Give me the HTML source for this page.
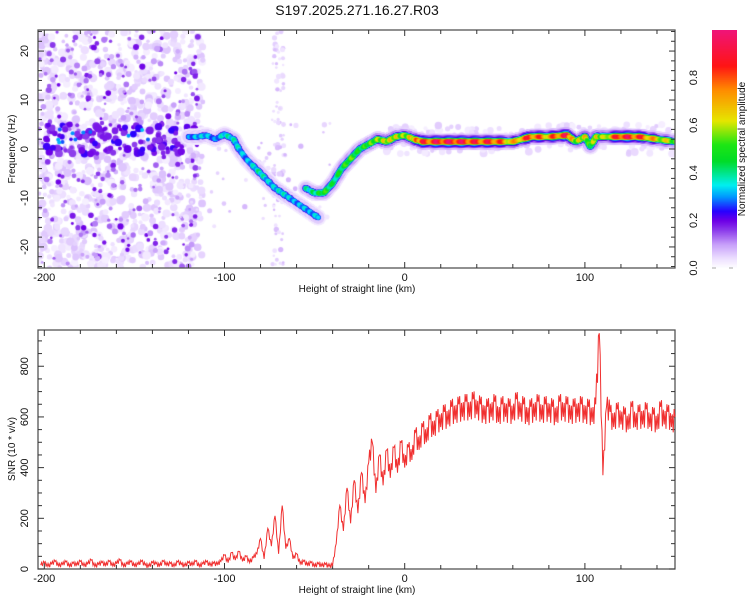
<!DOCTYPE html>
<html><head><meta charset="utf-8"><style>
body{margin:0;background:#fff;width:750px;height:600px;overflow:hidden;font-family:"Liberation Sans",sans-serif}
#wrap{position:relative;width:750px;height:600px}
canvas{position:absolute}
svg{position:absolute;left:0;top:0}
</style></head><body><div id="wrap">
<canvas id="spec" width="637" height="238" style="left:38px;top:30px"></canvas>
<canvas id="cbar" width="25" height="238" style="left:712px;top:30px"></canvas>
<svg id="svg" width="750" height="600"></svg>
</div>
<script>
// ---- data ----
const ridge1X=[-120,-115,-110,-105,-100,-95,-92,-88,-84,-80,-76,-72,-68,-64,-60,-56,-52,-48];
const ridge1F=[2.5,2.5,2.8,2,3,2,0,-2,-3.5,-5,-6.5,-8,-9,-10,-11,-12,-13,-14];
const ridge1A=[.28,.32,.33,.28,.36,.36,.34,.3,.34,.38,.33,.33,.36,.33,.3,.33,.3,.34];
const ridge2X=[-55,-50,-45,-40,-35,-30,-25,-20,-15,-10,-5,0,5,10,20,30,40,50,60,70,80,90,95,100,103,106,110,120,130,140,150];
const ridge2F=[-8,-9,-9,-7,-4,-2,0,1,2,1.5,2.5,2.8,2,1.5,1.5,1.5,1.5,1.5,1.5,2.5,2.5,2.8,1.5,2.5,0.5,2.5,2.5,2.5,2.5,2,1.5];
const ridge2A=[.36,.4,.5,.42,.45,.52,.45,.5,.55,.62,.62,.55,.68,.8,.88,.88,.82,.82,.65,.82,.7,.88,.55,.65,.45,.65,.55,.88,.82,.65,.55];
const snrStart=-202, snrStep=2;
const snrValues=[15,25,10,20,30,12,18,28,10,22,15,30,12,20,35,10,18,25,14,30,12,22,35,10,20,28,12,18,30,15,10,25,20,12,30,15,22,10,28,18,12,25,15,30,10,20,28,14,22,18,
30,55,25,65,35,70,30,50,25,45,
60,120,40,160,90,210,60,250,80,120,
40,60,20,30,15,25,10,20,12,18,10,15,
100,250,150,320,180,350,220,380,260,420,
500,300,450,330,470,360,480,380,500,400,
480,430,540,470,560,500,590,530,600,560,
620,570,640,590,650,600,660,600,670,610,
650,590,640,600,660,580,650,600,640,590,670,600,650,580,640,600,660,590,650,600,640,580,660,600,650,590,640,600,650,590,
640,580,650,
930,370,640,
620,560,630,570,610,550,640,560,620,570,630,560,610,550,640,570,620,560,600];
const xTicks=[-200,-100,0,100];
const fTicks=[-20,-10,0,10,20];
const snrTicks=[0,200,400,600,800];
const cbTicks=[0,0.2,0.4,0.6,0.8];

// ---- scales ----
const X0=38,X1=675,XMIN=-203.5,XMAX=150;
const sx=v=>X0+(v-XMIN)/(XMAX-XMIN)*(X1-X0);
const FT=30,FB=268,FMIN=-24.3,FMAX=24.3;
const sf=v=>FB-(v-FMIN)/(FMAX-FMIN)*(FB-FT);
const ST=330,SB=569,SMIN=0,SMAX=943;
const ss=v=>SB-(v-SMIN)/(SMAX-SMIN)*(SB-ST);

const stops=[[0,[255,255,255]],[0.04,[238,225,255]],[0.1,[200,160,250]],[0.16,[140,60,235]],[0.2,[110,0,230]],[0.24,[40,0,255]],[0.3,[0,150,255]],[0.35,[0,240,240]],[0.45,[0,220,40]],[0.52,[30,230,20]],[0.62,[230,230,0]],[0.75,[255,140,0]],[0.85,[255,20,20]],[1,[240,20,120]]];
function cmap(a){a=Math.max(0,Math.min(1,a));for(let i=1;i<stops.length;i++){if(a<=stops[i][0]){const[t0,c0]=stops[i-1],[t1,c1]=stops[i];const t=(a-t0)/(t1-t0);return 'rgb('+c0.map((c,k)=>Math.round(c+(c1[k]-c)*t)).join(',')+')';}}return 'rgb(240,20,120)';}

const cb=document.getElementById('cbar').getContext('2d');
for(let y=0;y<238;y++){cb.fillStyle=cmap(1-y/238);cb.fillRect(0,y,25,1);}

const sp=document.getElementById('spec').getContext('2d');
let seed=12345;const rnd=()=>{seed=(seed*16807)%2147483647;return seed/2147483647;};
function blob(x,y,r,a){sp.fillStyle=cmap(a);sp.beginPath();sp.arc(x-X0,y-FT,r,0,7);sp.fill();}
// background noise texture (decorative)
for(let i=0;i<1000;i++){const h=XMIN+rnd()*(-112-XMIN);const f=FMIN+rnd()*(FMAX-FMIN);blob(sx(h),sf(f),1.8+rnd()*2.6,0.02+rnd()*0.05);}
for(let i=0;i<320;i++){const h=XMIN+rnd()*(-113-XMIN);const f=FMIN+rnd()*(FMAX-FMIN);blob(sx(h),sf(f),1.3+rnd()*1.8,0.08+rnd()*0.12);}
for(let i=0;i<60;i++){const h=-125+rnd()*85;const f=-16+rnd()*22;blob(sx(h),sf(f),1.2+rnd()*1.5,0.03+rnd()*0.05);}
for(let i=0;i<80;i++){const h=-74+rnd()*7;const f=FMIN+rnd()*(FMAX-FMIN);blob(sx(h),sf(f),1.2+rnd()*1.5,0.03+rnd()*0.05);}
for(let i=0;i<120;i++){const h=-200+rnd()*85;const f=-1+rnd()*6;blob(sx(h),sf(f),1.8+rnd()*2.2,0.15+rnd()*0.09);}
for(let i=0;i<12;i++){const h=-195+rnd()*75;const f=1+rnd()*3;blob(sx(h),sf(f),2,0.27+rnd()*0.06);}
for(let i=0;i<200;i++){const h=-10+rnd()*160;const f=-1+rnd()*6;blob(sx(h),sf(f),2+rnd()*2,0.02+rnd()*0.04);}
function ridge(X,F,A){const pts=[];let s=0;for(let i=0;i<X.length-1;i++){for(let t=0;t<1;t+=0.04){s++;const m=1+0.15*Math.sin(s*0.35);pts.push([X[i]+(X[i+1]-X[i])*t,F[i]+(F[i+1]-F[i])*t,(A[i]+(A[i+1]-A[i])*t)*m]);}}
 pts.push([X[X.length-1],F[F.length-1],A[A.length-1]]);
 const layers=[[8,0.08],[6.2,0.16],[5,0.24],[4,0.3],[3.3,0.5],[2.7,0.72],[2.1,1]];
 layers.forEach(([r,k])=>pts.forEach(p=>{const a=p[2]*k*1.1;if(k<=0.16||a>0.2)blob(sx(p[0]),sf(p[1]),r,Math.min(a,p[2]));}));}
ridge(ridge1X,ridge1F,ridge1A);ridge(ridge2X,ridge2F,ridge2A);

// ---- SVG axes ----
const NS='http://www.w3.org/2000/svg';const svg=document.getElementById('svg');
function el(tag,attrs,name,txt){const e=document.createElementNS(NS,tag);for(const k in attrs)e.setAttribute(k,attrs[k]);


if(txt!==undefined)e.textContent=txt;svg.appendChild(e);return e;}
function frame(T,B,nm){el('rect',{x:X0,y:T,width:X1-X0,height:B-T,fill:'none',stroke:'#555','stroke-width':1.3},nm);}
frame(FT,FB,'spectrogram-frame');frame(ST,SB,'snr-frame');
function xaxis(T,B,pre){for(let v=-200;v<=140;v+=20){const x=sx(v);const big=v%100===0;const L=big?6:4;
 el('line',{x1:x,x2:x,y1:B,y2:B-L,stroke:'#333'},pre+'-x-tick');el('line',{x1:x,x2:x,y1:T,y2:T+L,stroke:'#333'},pre+'-x-tick');}
 xTicks.forEach(v=>el('text',{x:sx(v),y:B+13,'font-size':11,'text-anchor':'middle',fill:'#111'},pre+'-x-tick-label',String(v)));
 el('text',{x:357,y:B+24,'font-size':10,'text-anchor':'middle',fill:'#111'},pre+'-x-axis-title','Height of straight line (km)');}
xaxis(FT,FB,'spectrogram');xaxis(ST,SB,'snr');
for(let v=-24;v<=24;v+=2){const y=sf(v);const L=v%10===0?6:4;el('line',{x1:X0,x2:X0+L,y1:y,y2:y,stroke:'#333'},'freq-tick');el('line',{x1:X1,x2:X1-L,y1:y,y2:y,stroke:'#333'},'freq-tick');}
fTicks.forEach(v=>{const y=sf(v);el('text',{x:28,y:y,'font-size':11,'text-anchor':'middle',transform:`rotate(-90 28 ${y})`,fill:'#111'},'freq-tick-label',String(v));});
el('text',{x:15,y:149,'font-size':10,'text-anchor':'middle',transform:'rotate(-90 15 149)',fill:'#111'},'freq-axis-title','Frequency (Hz)');
for(let v=0;v<=900;v+=50){const y=ss(v);const L=v%200===0?6:4;el('line',{x1:X0,x2:X0+L,y1:y,y2:y,stroke:'#333'},'snr-tick');el('line',{x1:X1,x2:X1-L,y1:y,y2:y,stroke:'#333'},'snr-tick');}
snrTicks.forEach(v=>{const y=ss(v);el('text',{x:28,y:y,'font-size':11,'text-anchor':'middle',transform:`rotate(-90 28 ${y})`,fill:'#111'},'snr-tick-label',String(v));});
el('text',{x:15,y:449,'font-size':10,'text-anchor':'middle',transform:'rotate(-90 15 449)',fill:'#111'},'snr-axis-title','SNR (10 * v/v)');
cbTicks.forEach(v=>{const y=268-v*238;el('text',{x:697,y:y,'font-size':11,'text-anchor':'middle',transform:`rotate(-90 697 ${y})`,fill:'#111'},'colorbar-tick-label',v.toFixed(1));});
el('line',{x1:712,x2:716,y1:268,y2:268,stroke:'#aaa'},'colorbar-tick');el('line',{x1:729,x2:733,y1:268,y2:268,stroke:'#aaa'},'colorbar-tick');
el('text',{x:745,y:149,'font-size':10,'text-anchor':'middle',transform:'rotate(-90 745 149)',fill:'#111'},'colorbar-title','Normalized spectral amplitude');
el('text',{x:357,y:15,'font-size':14,'text-anchor':'middle',fill:'#111'},'chart-title','S197.2025.271.16.27.R03');
let d='';const sub=4;
snrValues.forEach((v,i)=>{const x=sx(snrStart+i*snrStep);d+=(i?'L':'M')+x.toFixed(1)+' '+ss(v).toFixed(1);
 if(i<snrValues.length-1){const n=snrValues[i+1];for(let k=1;k<sub;k++){const t=k/sub;const base=v+(n-v)*t;const j=(k%2?1:-1)*Math.max(8,base*0.07);
 d+='L'+(sx(snrStart+(i+t)*snrStep)).toFixed(1)+' '+ss(Math.max(0,base+j)).toFixed(1);}}});
el('path',{d:d,fill:'none',stroke:'#f03030','stroke-width':1},'snr-line');
</script></body></html>
